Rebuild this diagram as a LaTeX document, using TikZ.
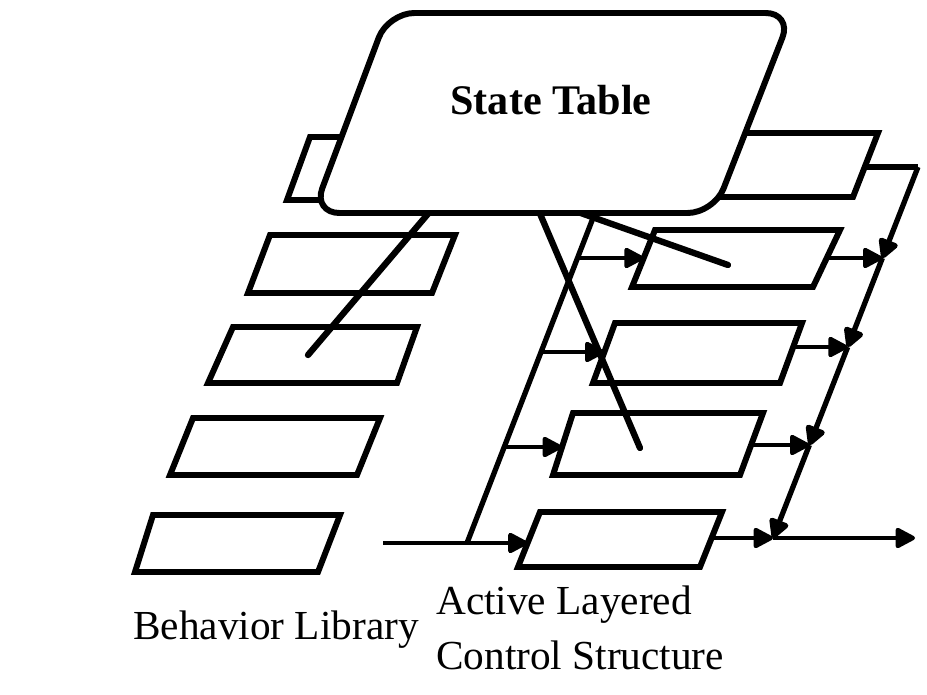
\documentclass[tikz,border=0pt]{standalone}
\usepackage{fontspec}
\setmainfont{Liberation Serif}
\usetikzlibrary{arrows.meta}

\begin{document}
\begin{tikzpicture}[x=0.02cm,y=-0.02cm,
        box/.style={line width=3.4pt,line join=miter},
        bus/.style={line width=3pt},
        link/.style={line width=2.4pt,-{Triangle[length=12.5pt,width=12.5pt,round]}},
        busdown/.style={line width=3pt,-{Triangle[length=12.5pt,width=12.5pt,round]}},
        pointer/.style={line width=3.6pt,line cap=round},
        lbl/.style={font=\fontsize{23.5}{31}\selectfont}]
    \useasboundingbox (0,0) rectangle (927,695);
    % state table corners
    \coordinate (T1) at (388,13);
    \coordinate (T2) at (792,13);
    \coordinate (T3) at (714,213);
    \coordinate (T4) at (313,213);
    % tab on the table
    \coordinate (tab1) at (310,137);
    \coordinate (tab2) at (350,137);
    \coordinate (tab3) at (327,200);
    \coordinate (tab4) at (287,200);
    % behavior library
    \coordinate (b1a) at (270,235);
    \coordinate (b1b) at (455,235);
    \coordinate (b1c) at (432,293);
    \coordinate (b1d) at (248,293);
    \coordinate (b2a) at (233,327);
    \coordinate (b2b) at (417,327);
    \coordinate (b2c) at (397,383);
    \coordinate (b2d) at (208,383);
    \coordinate (b3a) at (193,418);
    \coordinate (b3b) at (380,418);
    \coordinate (b3c) at (357,475);
    \coordinate (b3d) at (170,475);
    \coordinate (b4a) at (153,515);
    \coordinate (b4b) at (340,515);
    \coordinate (b4c) at (318,572);
    \coordinate (b4d) at (135,572);
    % control layers
    \coordinate (c0a) at (700,133);
    \coordinate (c0b) at (878,133);
    \coordinate (c0c) at (853,197);
    \coordinate (c0d) at (675,197);
    \coordinate (c1a) at (655,230);
    \coordinate (c1b) at (840,230);
    \coordinate (c1c) at (813,287);
    \coordinate (c1d) at (632,287);
    \coordinate (c2a) at (615,323);
    \coordinate (c2b) at (802,323);
    \coordinate (c2c) at (780,383);
    \coordinate (c2d) at (593,383);
    \coordinate (c3a) at (573,413);
    \coordinate (c3b) at (763,413);
    \coordinate (c3c) at (740,475);
    \coordinate (c3d) at (553,475);
    \coordinate (c4a) at (540,512);
    \coordinate (c4b) at (722,512);
    \coordinate (c4c) at (700,567);
    \coordinate (c4d) at (518,567);
    % left bus and inputs
    \coordinate (L0) at (600,200);
    \coordinate (L1) at (577.5,258);
    \coordinate (L2) at (541,352);
    \coordinate (L3) at (504,447);
    \coordinate (L4) at (467,543);
    \coordinate (in) at (383,543);
    \coordinate (c1w) at (643.7,258);
    \coordinate (c2w) at (604.4,352);
    \coordinate (c3w) at (562,447);
    \coordinate (c4w) at (527.6,543);
    % right bus and outputs
    \coordinate (R0) at (918,167);
    \coordinate (R1) at (882.4,258);
    \coordinate (R2) at (847.7,347);
    \coordinate (R3) at (809.4,445);
    \coordinate (R4) at (773,538);
    \coordinate (out) at (915,538);
    \coordinate (c0e) at (864.7,167);
    \coordinate (c1e) at (826.7,258);
    \coordinate (c2e) at (793.2,347);
    \coordinate (c3e) at (751,445);
    \coordinate (c4e) at (711.6,538);
    % pointer ends
    \coordinate (p1s) at (444,195);
    \coordinate (p1e) at (308,355);
    \coordinate (p2s) at (532,195);
    \coordinate (p2e) at (640,448);
    \coordinate (p3s) at (575,211);
    \coordinate (p3e) at (728,265);

    \draw[box] (tab1) -- (tab2) -- (tab3) -- (tab4) -- cycle;
    \draw[box] (c0a) -- (c0b) -- (c0c) -- (c0d) -- cycle;
    \draw[bus] (c0e) -- (R0);
    \draw[pointer] (p1s) -- (p1e);
    \draw[pointer] (p2s) -- (p2e);
    \draw[pointer] (p3s) -- (p3e);
    \draw[bus] (L0) -- (L4);
    \draw[box,fill=white,rounded corners=15pt] (T1) -- (T2) -- (T3) -- (T4) -- cycle;
    \node[font=\fontsize{24}{31}\selectfont\bfseries] (title) at (551,100) {State Table};

    \draw[box] (b1a) -- (b1b) -- (b1c) -- (b1d) -- cycle;
    \draw[box] (b2a) -- (b2b) -- (b2c) -- (b2d) -- cycle;
    \draw[box] (b3a) -- (b3b) -- (b3c) -- (b3d) -- cycle;
    \draw[box] (b4a) -- (b4b) -- (b4c) -- (b4d) -- cycle;

    \draw[box] (c1a) -- (c1b) -- (c1c) -- (c1d) -- cycle;
    \draw[box] (c2a) -- (c2b) -- (c2c) -- (c2d) -- cycle;
    \draw[box] (c3a) -- (c3b) -- (c3c) -- (c3d) -- cycle;
    \draw[box] (c4a) -- (c4b) -- (c4c) -- (c4d) -- cycle;

    \draw[link] (L1) -- (c1w);
    \draw[link] (L2) -- (c2w);
    \draw[link] (L3) -- (c3w);
    \draw[link] (in) -- (c4w);

    \draw[link] (c1e) -- (R1);
    \draw[link] (c2e) -- (R2);
    \draw[link] (c3e) -- (R3);
    \draw[link] (c4e) -- (R4);
    \draw[busdown] (R0) -- (R1);
    \draw[busdown] (R1) -- (R2);
    \draw[busdown] (R2) -- (R3);
    \draw[busdown] (R3) -- (R4);
    \draw[link] (R4) -- (out);

    \node[lbl] (blib) at (276,630) {Behavior Library};
    \node[lbl,anchor=west,align=left] (alcs) at (430,628) {Active Layered\\Control Structure};
\end{tikzpicture}
\end{document}
